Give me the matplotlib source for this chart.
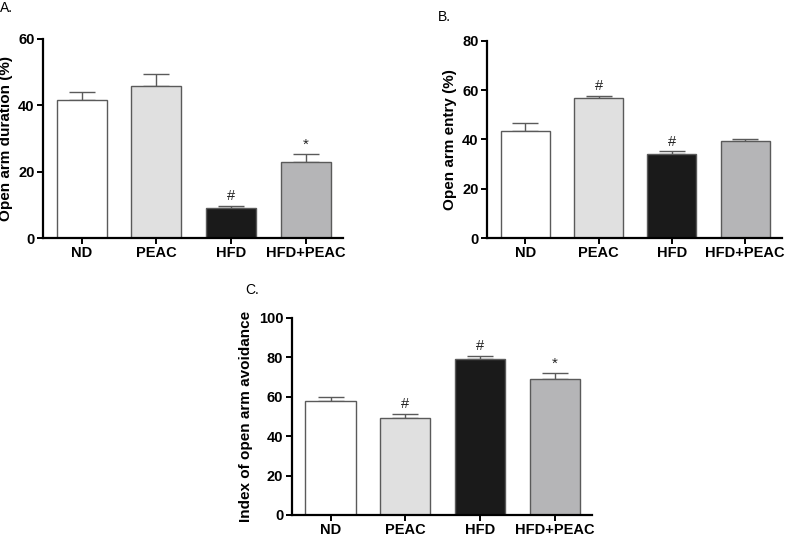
"""
Elevated plus maze results: three bar panels with SEM error bars
"""
import matplotlib
matplotlib.use('Agg')
import matplotlib.pyplot as plt
import numpy as np

plt.rcParams['font.family'] = ['Liberation Sans', 'DejaVu Sans']
plt.rcParams['font.size'] = 10

groups = ['ND', 'PEAC', 'HFD', 'HFD+PEAC']
bar_colors = ['#ffffff', '#e0e0e0', '#1a1a1a', '#b5b5b7']

duration_mean = [41.7, 45.7, 9.1, 23.0]
duration_sem = [2.4, 3.7, 0.6, 2.4]
duration_marks = ['', '', '#', '*']

entry_mean = [43.3, 56.6, 33.9, 39.2]
entry_sem = [3.5, 1.1, 1.4, 1.1]
entry_marks = ['', '#', '#', '']

avoid_mean = [57.6, 49.0, 78.9, 69.1]
avoid_sem = [2.4, 2.3, 1.8, 2.7]
avoid_marks = ['', '#', '#', '*']


def bar_panel(ax, means, sems, marks, ymax, ystep, ylabel, letter, letter_xy):
    x = np.arange(len(groups))
    ax.bar(x, means, width=0.67, color=bar_colors, edgecolor='#5a5a5a',
           linewidth=1.0, zorder=2)
    ax.errorbar(x, means, yerr=[np.zeros(len(sems)), sems], fmt='none',
                ecolor='#5a5a5a', elinewidth=1.0, capsize=9.5, capthick=1.0,
                zorder=1)
    for xi, m, s, t in zip(x, means, sems, marks):
        if t:
            ax.text(xi, m + s + ymax * 0.012, t, ha='center', va='bottom',
                    fontsize=10.5 if t == '#' else 11, color='#222222')
    ax.set_xlim(-0.52, 3.5)
    ax.set_ylim(0, ymax)
    ax.set_yticks(np.arange(0, ymax + 1, ystep))
    ax.set_xticks(x)
    ax.set_xticklabels(groups, fontweight='bold', fontsize=10.5)
    for lbl in ax.get_yticklabels():
        lbl.set_fontweight('bold')
        lbl.set_fontsize(10.5)
    ax.set_ylabel(ylabel, fontweight='bold', fontsize=11, labelpad=4)
    for side in ['top', 'right']:
        ax.spines[side].set_visible(False)
    for side in ['left', 'bottom']:
        ax.spines[side].set_linewidth(1.6)
    ax.tick_params(axis='both', width=1.4, length=4, pad=2)
    ax.figure.text(letter_xy[0], letter_xy[1], letter, fontsize=10,
                   ha='left', va='center')


fig = plt.figure(figsize=(7.87, 5.46), dpi=100)
ax_a = fig.add_axes([0.0546, 0.5641, 0.3812, 0.3645])
ax_b = fig.add_axes([0.6188, 0.5641, 0.3748, 0.3614])
ax_c = fig.add_axes([0.3706, 0.0568, 0.3816, 0.3613])

bar_panel(ax_a, duration_mean, duration_sem, duration_marks, 60, 20,
          'Open arm duration (%)', 'A.', (0.0, 0.985))
bar_panel(ax_b, entry_mean, entry_sem, entry_marks, 80, 20,
          'Open arm entry (%)', 'B.', (0.556, 0.968))
bar_panel(ax_c, avoid_mean, avoid_sem, avoid_marks, 100, 20,
          'Index of open arm avoidance', 'C.', (0.311, 0.469))

fig.savefig('out.png', dpi=100)
plt.close(fig)
